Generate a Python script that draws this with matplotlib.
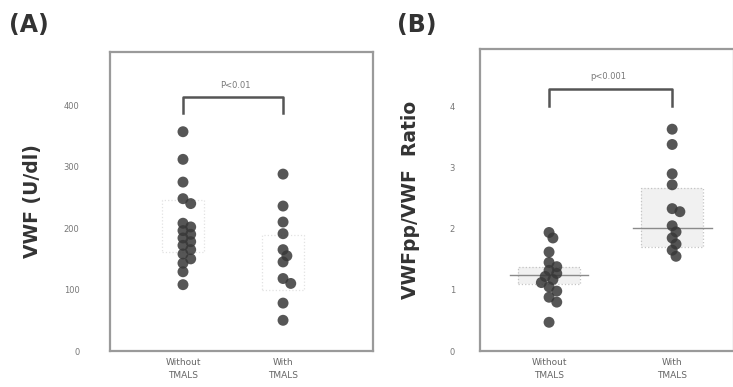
import numpy as np
import matplotlib
matplotlib.use("Agg")
import matplotlib.pyplot as plt

# values
groups = ["Without\nTMALS", "With\nTMALS"]

vwf_without = [357, 312, 275, 248, 240, 208, 202, 196, 190, 184, 178, 172,
               165, 158, 150, 143, 129, 108]
vwf_with = [288, 236, 210, 191, 165, 155, 145, 118, 110, 78, 50]

ratio_without = [1.94, 1.85, 1.62, 1.45, 1.38, 1.32, 1.27, 1.22, 1.17, 1.12,
                 1.05, 0.98, 0.88, 0.80, 0.47]
ratio_with = [3.63, 3.38, 2.90, 2.72, 2.33, 2.28, 2.05, 1.95, 1.85, 1.75,
              1.65, 1.55]

# box summaries (Q1, median, Q3)
vwf_boxes = [(161, 200, 246), (99, 150, 189)]
ratio_boxes = [(1.09, 1.24, 1.37), (1.71, 2.02, 2.67)]

vwf_ticks = [0, 100, 200, 300, 400]
ratio_ticks = [0, 1, 2, 3, 4]

p_text = ["P<0.01", "p<0.001"]

DOT = "#383838"
FRAME = "#9a9a9a"


def swarm_offsets(ax, xc, ys, diam_px, min_frac=0.6):
    # simple beeswarm in pixel space, returns x offsets in data units
    pts = ax.transData.transform([(xc, y) for y in ys])
    px_per_x = ax.transData.transform([(xc + 1, 0)])[0][0] - ax.transData.transform([(xc, 0)])[0][0]
    placed = []
    offs = []
    step = diam_px * 0.35
    for (_, py) in pts:
        for k in range(0, 20):
            cand = [0] if k == 0 else [k * step, -k * step]
            ok = None
            for c in cand:
                if all(np.hypot(c - ox, py - oy) >= diam_px * min_frac for ox, oy in placed):
                    ok = c
                    break
            if ok is not None:
                break
        placed.append((ok, py))
        offs.append(ok / px_per_x)
    return np.array(offs)


def style_axes(ax, ticks, pad):
    for s in ax.spines.values():
        s.set_color(FRAME)
        s.set_linewidth(1.6)
    ax.set_yticks(ticks)
    ax.set_yticklabels([str(t) for t in ticks], fontsize=6, color="#777777")
    ax.set_xticks([0, 1])
    ax.set_xticklabels(groups, fontsize=6.5, color="#666666", linespacing=1.6)
    ax.tick_params(axis="y", length=0, pad=pad)
    ax.tick_params(axis="x", length=0, pad=5)


def bracket(ax, y_top, y_end, ytxt, xtxt, txt):
    ax.plot([0, 0, 1, 1], [y_end, y_top, y_top, y_end], color="#555555", lw=1.8,
            solid_joinstyle="round")
    ax.text(xtxt, ytxt, txt, ha="center", va="center", fontsize=6, color="#777777")


def boxes(ax, stats, ls, box_half, med_half, med_color, fill, edge):
    for i, (q1, med, q3) in enumerate(stats):
        ax.fill_between([i - box_half, i + box_half], q1, q3, color=fill, zorder=1, lw=0)
        ax.plot([i - box_half, i + box_half, i + box_half, i - box_half, i - box_half],
                [q1, q1, q3, q3, q1], color=edge, lw=0.9, ls=ls, zorder=1)
        if med_color:
            ax.plot([i - med_half, i + med_half], [med, med], color=med_color, lw=1.0, zorder=1)


fig = plt.figure(figsize=(7.33, 3.87), dpi=100)

# ---- panel A
axA = fig.add_axes([0.150, 0.093, 0.359, 0.773])
axA.set_xlim(-0.73, 1.9)
axA.set_ylim(0, 487)
style_axes(axA, vwf_ticks, 22)
boxes(axA, vwf_boxes, ":", 0.21, 0.21, None, "none", "#e2e2e2")
for i, vals in enumerate([vwf_without, vwf_with]):
    offs = swarm_offsets(axA, i, vals, 11)
    axA.scatter(np.full(len(vals), i) + offs, vals, s=62, color=DOT, alpha=0.85,
                edgecolors="none", zorder=3)
bracket(axA, 413, 387, 432, 0.52, p_text[0])
axA.set_ylabel("VWF (U/dl)", fontsize=13.5, fontweight="bold", color="#333333")
axA.yaxis.set_label_coords(-0.26, 0.5)

# ---- panel B
axB = fig.add_axes([0.655, 0.093, 0.346, 0.780])
axB.set_xlim(-0.56, 1.5)
axB.set_ylim(0, 4.94)
style_axes(axB, ratio_ticks, 18)
boxes(axB, ratio_boxes, ":", 0.25, 0.32, "#8a8a8a", "#f1f1f1", "#c4c4c4")
for i, vals in enumerate([ratio_without, ratio_with]):
    offs = swarm_offsets(axB, i, vals, 11)
    axB.scatter(np.full(len(vals), i) + offs, vals, s=62, color=DOT, alpha=0.85,
                edgecolors="none", zorder=3)
bracket(axB, 4.29, 4.01, 4.5, 0.48, p_text[1])
axB.set_ylabel("VWFpp/VWF  Ratio", fontsize=13.5, fontweight="bold", color="#333333")
axB.yaxis.set_label_coords(-0.237, 0.5)

fig.text(0.012, 0.935, "(A)", fontsize=17, fontweight="bold", color="#333333", va="center")
fig.text(0.541, 0.935, "(B)", fontsize=17, fontweight="bold", color="#333333", va="center")

fig.savefig("out.png", dpi=100)
